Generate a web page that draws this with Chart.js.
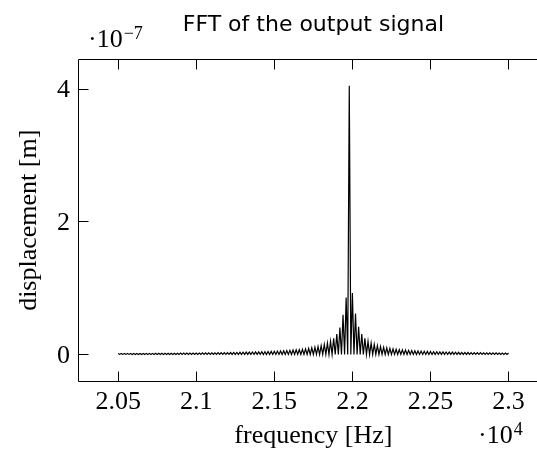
<!DOCTYPE html>
<html>
<head>
<meta charset="utf-8">
<script src="https://cdn.jsdelivr.net/npm/chart.js@4.4.1/dist/chart.umd.min.js"></script>
<style>
  html, body { margin: 0; padding: 0; background: #fff; overflow: hidden; }
  canvas { display: block; }
</style>
</head>
<body>
<canvas id="fft" width="537" height="452"></canvas>
<script>
// FFT bins [Hz]
const frequency = [
  20500,20510,20520,20530,20540,20550,20560,20570,20580,20590,
  20600,20610,20620,20630,20640,20650,20660,20670,20680,20690,
  20700,20710,20720,20730,20740,20750,20760,20770,20780,20790,
  20800,20810,20820,20830,20840,20850,20860,20870,20880,20890,
  20900,20910,20920,20930,20940,20950,20960,20970,20980,20990,
  21000,21010,21020,21030,21040,21050,21060,21070,21080,21090,
  21100,21110,21120,21130,21140,21150,21160,21170,21180,21190,
  21200,21210,21220,21230,21240,21250,21260,21270,21280,21290,
  21300,21310,21320,21330,21340,21350,21360,21370,21380,21390,
  21400,21410,21420,21430,21440,21450,21460,21470,21480,21490,
  21500,21510,21520,21530,21540,21550,21560,21570,21580,21590,
  21600,21610,21620,21630,21640,21650,21660,21670,21680,21690,
  21700,21710,21720,21730,21740,21750,21760,21770,21780,21790,
  21800,21810,21820,21830,21840,21850,21860,21870,21880,21890,
  21900,21910,21920,21930,21940,21950,21960,21970,21980,21990,
  22000,22010,22020,22030,22040,22050,22060,22070,22080,22090,
  22100,22110,22120,22130,22140,22150,22160,22170,22180,22190,
  22200,22210,22220,22230,22240,22250,22260,22270,22280,22290,
  22300,22310,22320,22330,22340,22350,22360,22370,22380,22390,
  22400,22410,22420,22430,22440,22450,22460,22470,22480,22490,
  22500,22510,22520,22530,22540,22550,22560,22570,22580,22590,
  22600,22610,22620,22630,22640,22650,22660,22670,22680,22690,
  22700,22710,22720,22730,22740,22750,22760,22770,22780,22790,
  22800,22810,22820,22830,22840,22850,22860,22870,22880,22890,
  22900,22910,22920,22930,22940,22950,22960,22970,22980,22990,
  23000
];

// magnitude, in units of 1e-7 m
const displacement = [
  0.016,0.003,0.017,0.003,0.017,0.003,0.017,0.003,0.017,0.003,
  0.018,0.003,0.018,0.003,0.018,0.003,0.018,0.003,0.019,0.003,
  0.019,0.003,0.019,0.003,0.020,0.003,0.020,0.003,0.020,0.003,
  0.021,0.003,0.021,0.003,0.021,0.003,0.022,0.003,0.022,0.003,
  0.023,0.003,0.023,0.003,0.023,0.003,0.024,0.003,0.024,0.003,
  0.025,0.003,0.025,0.003,0.026,0.003,0.027,0.003,0.027,0.003,
  0.028,0.003,0.028,0.003,0.029,0.003,0.030,0.003,0.031,0.003,
  0.031,0.003,0.032,0.003,0.033,0.003,0.034,0.003,0.035,0.003,
  0.036,0.003,0.037,0.003,0.038,0.003,0.039,0.003,0.041,0.003,
  0.042,0.003,0.044,0.003,0.045,0.003,0.047,0.003,0.049,0.003,
  0.051,0.003,0.053,0.003,0.055,0.003,0.058,0.003,0.061,0.003,
  0.064,0.003,0.068,0.003,0.072,0.003,0.076,0.003,0.081,0.003,
  0.087,0.003,0.094,0.003,0.102,0.003,0.111,0.003,0.122,0.003,
  0.136,0.003,0.153,0.003,0.174,0.003,0.200,0.003,0.245,0.003,
  0.310,0.003,0.410,0.003,0.600,0.003,0.860,0.003,
  4.050,
  0.003,0.930,0.003,0.620,0.003,0.420,0.003,0.310,0.003,0.245,
  0.003,0.200,0.003,0.174,0.003,0.153,0.003,0.136,0.003,0.122,
  0.003,0.111,0.003,0.102,0.003,0.094,0.003,0.087,0.003,0.081,
  0.003,0.076,0.003,0.072,0.003,0.068,0.003,0.064,0.003,0.061,
  0.003,0.058,0.003,0.055,0.003,0.053,0.003,0.051,0.003,0.049,
  0.003,0.047,0.003,0.045,0.003,0.044,0.003,0.042,0.003,0.041,
  0.003,0.039,0.003,0.038,0.003,0.037,0.003,0.036,0.003,0.035,
  0.003,0.034,0.003,0.033,0.003,0.032,0.003,0.031,0.003,0.031,
  0.003,0.030,0.003,0.029,0.003,0.028,0.003,0.028,0.003,0.027,
  0.003,0.027,0.003,0.026,0.003,0.025,0.003,0.025,0.003,0.024,
  0.003,0.024
];

const xTicks = [20500, 21000, 21500, 22000, 22500, 23000];
const xTickLabels = ['2.05', '2.1', '2.15', '2.2', '2.25', '2.3'];
const yTicks = [0, 2, 4];
const yTickLabels = ['0', '2', '4'];

const serif = '"Liberation Serif", "Times New Roman", serif';
const crisp = v => Math.floor(v) + 0.5;

// pgfplots-style box (its right side falls outside the window), inward ticks, labels
const axisBox = {
  id: 'axisBox',
  afterDraw(chart) {
    const ctx = chart.ctx, a = chart.chartArea;
    const xs = chart.scales.x, ys = chart.scales.y;
    const L = crisp(a.left), T = crisp(a.top), B = crisp(a.bottom);
    ctx.save();
    ctx.strokeStyle = '#000';
    ctx.lineWidth = 1;
    ctx.beginPath();
    ctx.moveTo(a.right, T); ctx.lineTo(L, T); ctx.lineTo(L, B); ctx.lineTo(a.right, B);
    xTicks.forEach(v => {
      const x = crisp(xs.getPixelForValue(v));
      ctx.moveTo(x, B); ctx.lineTo(x, B - 10);
      ctx.moveTo(x, T); ctx.lineTo(x, T + 10);
    });
    yTicks.forEach(v => {
      const y = crisp(ys.getPixelForValue(v));
      ctx.moveTo(L, y); ctx.lineTo(L + 10, y);
    });
    ctx.stroke();

    ctx.fillStyle = '#000';
    ctx.font = '26px ' + serif;
    ctx.textBaseline = 'alphabetic';
    ctx.textAlign = 'center';
    xTicks.forEach((v, i) => ctx.fillText(xTickLabels[i], xs.getPixelForValue(v), 409));
    ctx.textAlign = 'right';
    yTicks.forEach((v, i) => ctx.fillText(yTickLabels[i], 70, ys.getPixelForValue(v) + 8));

    const midX = 313.4, midY = (a.top + a.bottom) / 2;
    ctx.textAlign = 'center';
    ctx.fillText('frequency [Hz]', midX, 443);
    ctx.save();
    ctx.translate(36, midY);
    ctx.rotate(-Math.PI / 2);
    ctx.fillText('displacement [m]', 0, 0);
    ctx.restore();

    // scale multipliers
    ctx.textAlign = 'left';
    let w = ctx.measureText('·10').width;
    ctx.fillText('·10', 88, 47);
    ctx.font = '18px ' + serif;
    ctx.fillText('\u22127', 88 + w + 1, 39);
    ctx.font = '26px ' + serif;
    w = ctx.measureText('·10').width;
    ctx.fillText('·10', 478, 443);
    ctx.font = '18px ' + serif;
    ctx.fillText('4', 478 + w + 1, 435);

    ctx.font = '22px "DejaVu Sans", sans-serif';
    ctx.textAlign = 'center';
    ctx.fillText('FFT of the output signal', midX, 31);
    ctx.restore();
  }
};

new Chart(document.getElementById('fft').getContext('2d'), {
  type: 'line',
  data: {
    datasets: [{
      data: frequency.map((f, i) => ({ x: f, y: displacement[i] })),
      borderColor: '#000',
      borderWidth: 1.2,
      pointRadius: 0,
      tension: 0,
      fill: false
    }]
  },
  options: {
    responsive: false,
    animation: false,
    devicePixelRatio: 1,
    layout: { padding: { left: 78.3, top: 59, right: 0, bottom: 70.5 } },
    plugins: { legend: { display: false }, tooltip: { enabled: false } },
    scales: {
      // max is where the visible window cuts the axis off
      x: { type: 'linear', min: 20245, max: 23182, display: false },
      y: { type: 'linear', min: -0.405, max: 4.455, display: false }
    }
  },
  plugins: [axisBox]
});
</script>
</body>
</html>
